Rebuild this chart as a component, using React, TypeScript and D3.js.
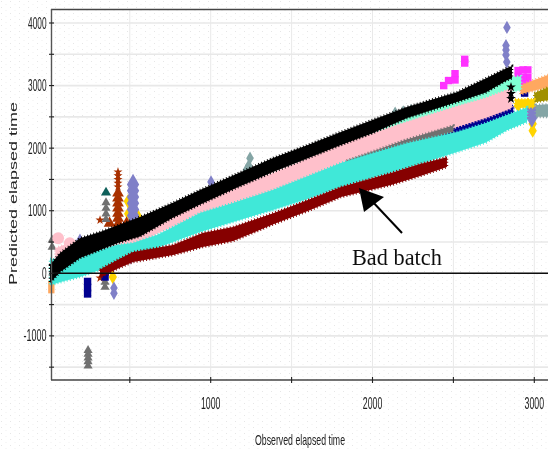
import React from "react";
import * as d3 from "d3";

const W = 548, H = 449;
const yTicks = [4000, 3000, 2000, 1000, 0, -1000];
const yMinor = [3500, 2500, 1500, 500, -500, -1500];
const xTicks = [1000, 2000, 3000];
const xMinor = [500, 1500, 2500];

// bands: [observed, upper, lower]
const magentaBand = [[1760, 2110, 1990], [1860, 2210, 2090], [1960, 2300, 2170]];
const aquaBand = [[1675, 2100, 1750], [1950, 2360, 2040], [2213, 2600, 2330], [2522, 2870, 2600], [2700, 3000, 2720], [2831, 3130, 2880], [2918, 3150, 2930]];
const pinkBand = [[40, 400, 50], [120, 480, 130], [316, 560, 300], [520, 700, 420], [687, 900, 660], [934, 1170, 900], [1138, 1413, 1100], [1385, 1600, 1300], [1600, 1840, 1530], [1805, 2070, 1730], [2000, 2240, 1900], [2213, 2420, 2080], [2522, 2670, 2340], [2700, 2800, 2480], [2831, 2930, 2610], [2860, 2950, 2640]];
const navyBand = [[2300, 2190, 2070], [2600, 2420, 2290], [2870, 2680, 2470]];
const greyBand = [[1840, 1800, 1690], [2200, 2130, 2030], [2500, 2360, 2260]];
const turquoiseBand = [[7, 230, -190], [100, 200, -120], [192, 245, -60], [316, 372, 53], [420, 452, 164], [520, 484, 244], [668, 612, 404], [767, 740, 500], [934, 964, 660], [1138, 1123, 820], [1385, 1330, 1011], [1600, 1550, 1190], [1805, 1761, 1378], [2000, 1920, 1525], [2213, 2080, 1681], [2522, 2260, 1937], [2700, 2400, 2090], [2831, 2530, 2288], [2955, 2650, 2416]];
const redBand = [[316, 60, -70], [420, 210, 70], [520, 340, 180], [767, 452, 292], [950, 644, 420], [1138, 739, 515], [1391, 963, 787], [1600, 1170, 995], [1805, 1378, 1218], [2114, 1602, 1410], [2300, 1750, 1560], [2442, 1841, 1682], [2460, 1860, 1700]];
const blackBand = [[7, 133, -155], [69, 324, 20], [192, 560, 245], [316, 660, 372], [430, 770, 490], [563, 899, 590], [760, 1120, 880], [934, 1330, 1100], [1170, 1600, 1380], [1385, 1841, 1618], [1600, 2050, 1840], [1805, 2260, 2050], [2000, 2450, 2240], [2213, 2656, 2480], [2522, 2895, 2736], [2700, 3113, 2890], [2831, 3279, 3087], [2862, 3310, 3119]];
const orangeBand = [[2915, 3007, 2860], [3000, 3090, 2920], [3085, 3170, 2975]];
const oliveBand = [[3000, 2880, 2735], [3085, 2975, 2767]];
const tealGreyBand = [[3010, 2690, 2500], [3085, 2700, 2500]];
const yellowBand = [[2880, 2780, 2640], [3000, 2780, 2650]];

// outliers: [observed, predicted]
const periwinkleSmall = [[2831, 3930], [2825, 3640], [2825, 3570], [2825, 3490], [2830, 3375], [1002, 1460], [192, 530], [402, -235], [402, -320], [408, 165], [507, 245]];
const periwinkleBig = [[520, 1420], [520, 1320], [520, 1220], [520, 1120], [520, 1020], [520, 920], [520, 820], [2985, 2610], [2985, 2500]];
const yellowPts = [[488, 1150], [490, 950], [553, 900], [2990, 2390], [2990, 2280], [395, -60], [2900, 2680], [2960, 2700]];
const brownStars = [[427, 1620], [427, 1560], [427, 1500], [427, 1440], [427, 1380], [316, 850], [2930, 2920], [316, -75]];
const brownPts = [[427, 1280], [427, 1200], [427, 1120], [427, 1040], [427, 960], [427, 880], [375, 800], [430, 800], [480, 800]];
const tealTri = [[353, 1290]];
const greyTri = [[353, 1130], [353, 1040], [353, 950], [353, 860], [347, -220], [347, -140], [20, 530], [20, 420], [242, -1230], [242, -1290], [242, -1350], [242, -1410], [242, -1480]];
const tealGreyPts = [[1243, 1840], [1235, 1720], [1220, 1650], [2083, 1650], [2083, 1490], [2140, 2560], [2190, 2580], [2240, 2600]];
const navyPts = [[239, -130], [239, -230], [239, -330], [347, 20], [347, -60], [2940, 2880]];
const magentaPts = [[2570, 3420], [2570, 3360], [2510, 3190], [2510, 3090], [2470, 3080], [2440, 3000], [2900, 3240], [2930, 3250], [2960, 3250], [2960, 3130], [2930, 3130], [2900, 3130], [2960, 3020], [2930, 3020]];
const blackStars = [[2856, 2975], [2856, 2790], [2856, 2870]];
const orangePts = [[15, -270], [15, -170]];
const pinkPts = [[57, 560], [129, 480], [192, 400]];

const x = d3.scaleLinear().domain([0, 3000]).range([48.9, 534.3]);
const y = d3.scaleLinear().domain([0, 4000]).range([273.3, 23]);

const area = d3.area<number[]>().x(d => x(d[0])).y0(d => y(d[2])).y1(d => y(d[1]));

const sym = (type: d3.SymbolType, size: number) => d3.symbol().type(type).size(size)() as string;

function Band({ data, color }: { data: number[][]; color: string }) {
  return (
    <path d={area(data) as string} fill={color} stroke={color} strokeWidth={2.6} strokeDasharray="1 2.2" />
  );
}

function Pts({ data, color, type, size }: { data: number[][]; color: string; type: d3.SymbolType; size: number }) {
  return (
    <g fill={color}>
      {data.map((d, i) => (
        <path key={i} d={sym(type, size)} transform={`translate(${x(d[0])},${y(d[1])})`} />
      ))}
    </g>
  );
}

const tickStyle = { fontFamily: "'Liberation Sans', Arial, sans-serif", fontSize: 16, fill: "#222" };

export default function App() {
  return (
    <svg width={W} height={H} viewBox={`0 0 ${W} ${H}`} style={{ position: "fixed", left: 0, top: 0, background: "#fff" }}>
      <defs>
        <pattern id="dots" width="9" height="6" patternUnits="userSpaceOnUse">
          <rect x="1" y="1" width="1" height="1" fill="#e6e6e6" />
          <rect x="5.5" y="4" width="1" height="1" fill="#eeeeee" />
        </pattern>
        <filter id="soft" x="-5%" y="-5%" width="110%" height="110%">
          <feGaussianBlur stdDeviation="0.35" />
        </filter>
      </defs>
      <rect width={W} height={H} fill="url(#dots)" />
      <rect x={274} y={195} width={180} height={46} fill="#fff" />
      <rect x={348} y={241} width={100} height={30} fill="#fff" />
      <rect x={454} y={130} width={94} height={12} fill="#fff" opacity={0.6} />
      <g filter="url(#soft)">
        {[...xMinor, ...xTicks].map(t => (
          <line key={t} x1={x(t)} x2={x(t)} y1={10} y2={380} stroke="#e9e9e9" strokeWidth={1} />
        ))}
        {[...yTicks, ...yMinor].map(t => (
          <line key={t} x1={52} x2={W} y1={y(t)} y2={y(t)} stroke="#e8e8e8" strokeWidth={1.6} />
        ))}

        <Pts data={yellowPts} color="#ffd400" type={d3.symbolDiamond} size={60} />
        <Pts data={periwinkleSmall} color="#8080c8" type={d3.symbolDiamond} size={50} />
        <Pts data={periwinkleBig} color="#8080c8" type={d3.symbolDiamond} size={130} />
        <Pts data={brownPts} color="#a83000" type={d3.symbolTriangle} size={60} />
        <Pts data={brownStars} color="#a83000" type={d3.symbolStar} size={26} />
        <Pts data={tealTri} color="#0f5f5a" type={d3.symbolTriangle} size={45} />
        <Pts data={greyTri} color="#707070" type={d3.symbolTriangle} size={36} />
        <Pts data={tealGreyPts} color="#84a5a5" type={d3.symbolDiamond} size={50} />
        <Pts data={navyPts} color="#000090" type={d3.symbolSquare} size={55} />
        <Pts data={magentaPts} color="#ff30ff" type={d3.symbolSquare} size={55} />
        <Pts data={orangePts} color="#ffa860" type={d3.symbolSquare} size={40} />
        <Pts data={pinkPts} color="#ffc0cb" type={d3.symbolCircle} size={110} />

        <Band data={magentaBand} color="#ff30ff" />
        <Band data={orangeBand} color="#ffa860" />
        <Band data={oliveBand} color="#a09000" />
        <Band data={tealGreyBand} color="#84a5a5" />
        <Band data={yellowBand} color="#ffd400" />
        <Band data={navyBand} color="#000090" />
        <Band data={aquaBand} color="#7fffd4" />
        <Band data={pinkBand} color="#ffc0cb" />
        <Band data={greyBand} color="#707070" />
        <Band data={turquoiseBand} color="#40e8d8" />
        <Band data={redBand} color="#860000" />
        <Band data={blackBand} color="#000000" />
        <Pts data={blackStars} color="#000000" type={d3.symbolStar} size={30} />

        <line x1={51} x2={W} y1={y(0)} y2={y(0)} stroke="#111" strokeWidth={1.4} />
        <line x1={51} x2={W} y1={9.5} y2={9.5} stroke="#444" strokeWidth={1.6} />
        <line x1={51.5} x2={51.5} y1={9} y2={380} stroke="#555" strokeWidth={1.4} />
        <line x1={51} x2={W} y1={380} y2={380} stroke="#444" strokeWidth={1.6} />
        {[...yTicks, ...yMinor].map(t => (
          <line key={t} x1={49} x2={54} y1={y(t)} y2={y(t)} stroke="#222" strokeWidth={1.1} />
        ))}
        {[...xTicks, ...xMinor].map(t => (
          <line key={t} x1={x(t)} x2={x(t)} y1={377} y2={383} stroke="#222" strokeWidth={1.1} />
        ))}
        {yTicks.map(t => {
          const s = String(t);
          return (
            <text key={t} x={46.5} y={y(t) + 5.5} textAnchor="end" {...tickStyle}
              textLength={s.length * 4.6} lengthAdjust="spacingAndGlyphs">{s}</text>
          );
        })}
        {xTicks.map(t => (
          <text key={t} x={x(t)} y={409} textAnchor="middle" {...tickStyle}
            textLength={19.5} lengthAdjust="spacingAndGlyphs">{t}</text>
        ))}
        <text transform="translate(17,285) rotate(-90)" fontFamily="'Liberation Sans', Arial, sans-serif" fontSize={11.5} fill="#222"
          textLength={183} lengthAdjust="spacingAndGlyphs">Predicted elapsed time</text>
        <text x={255} y={445} fontFamily="'Liberation Sans', Arial, sans-serif" fontSize={14.5} fill="#222"
          textLength={90} lengthAdjust="spacingAndGlyphs">Observed elapsed time</text>

        <line x1={402} x2={371} y1={233} y2={200} stroke="#000" strokeWidth={2} />
        <path d={d3.line()([[359, 188], [384, 197], [364, 212]]) + "Z"} fill="#000" />
        <text x={352} y={265} fontFamily="'Liberation Serif', 'Times New Roman', serif" fontSize={22.3} fill="#111">Bad batch</text>
      </g>
    </svg>
  );
}
